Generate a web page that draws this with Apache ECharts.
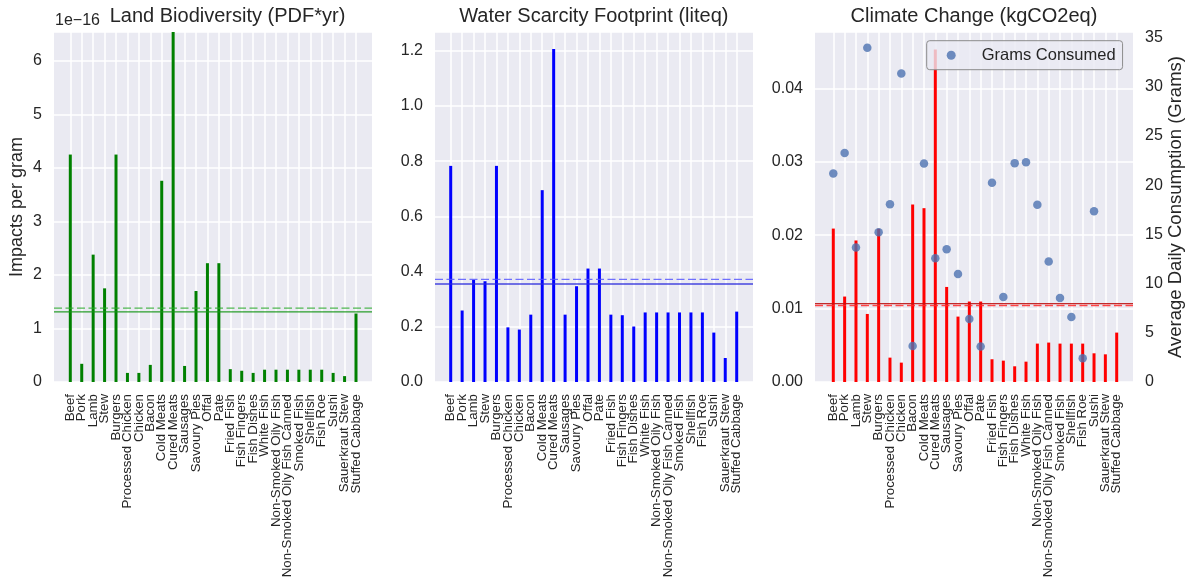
<!DOCTYPE html>
<html><head><meta charset="utf-8">
<script src="https://cdn.jsdelivr.net/npm/echarts@6/dist/echarts.min.js"></script>
<style>html,body{margin:0;padding:0;background:#fff}#c{width:1197px;height:585px}</style>
</head><body><div id="c"></div>
<script>
const categories = ['Beef','Pork','Lamb','Stew','Burgers','Processed Chicken','Chicken','Bacon','Cold Meats','Cured Meats','Sausages','Savoury Pies','Offal','Pate','Fried Fish','Fish Fingers','Fish Dishes','White Fish','Non-Smoked Oily Fish','Non-Smoked Oily Fish Canned','Smoked Fish','Shellfish','Fish Roe','Sushi','Sauerkraut Stew','Stuffed Cabbage'];
// Land biodiversity in units of 1e-16 PDF*yr per gram
const landBiodiversity = [4.25,0.34,2.38,1.75,4.25,0.17,0.17,0.32,3.76,6.54,0.30,1.70,2.22,2.22,0.24,0.21,0.17,0.23,0.23,0.23,0.23,0.23,0.23,0.17,0.11,1.28];
const waterScarcity = [0.783,0.259,0.370,0.365,0.783,0.198,0.190,0.244,0.695,1.206,0.244,0.347,0.411,0.411,0.244,0.242,0.201,0.252,0.252,0.252,0.252,0.252,0.252,0.179,0.087,0.255];
const climateChange = [0.0209,0.01164,0.01928,0.00927,0.02087,0.00332,0.00264,0.02418,0.02368,0.0453,0.01295,0.00891,0.01096,0.01096,0.0031,0.00291,0.00214,0.00277,0.00523,0.00537,0.00523,0.00523,0.00523,0.00391,0.00377,0.00673];
const gramsConsumed = [21.2,23.27,13.67,33.98,15.23,18.08,31.37,3.66,22.22,12.59,13.5,10.99,6.41,3.6,20.25,8.65,22.25,22.35,18.01,12.25,8.55,6.61,2.41,17.37,null,null];
// reference lines: [solid, dashed]
const landRefLines = [1.31, 1.38];
const waterRefLines = [0.355, 0.372];
const climateRefLines = [0.01069, 0.01042];
// axis ranges
const landAxis = {max: 6.54, interval: 1, decimals: 0};
const waterAxis = {max: 1.268, interval: 0.2, decimals: 1};
const climateAxis = {max: 0.04768, interval: 0.01, decimals: 2};
const gramsAxis = {max: 35.58, interval: 5, decimals: 0};
const landOffsetText = '1e\u221216';
const titles = ['Land Biodiversity (PDF*yr)', 'Water Scarcity Footprint (liteq)', 'Climate Change (kgCO2eq)'];

const FONT = "'Liberation Sans', Arial, sans-serif";
const TXT = '#262626';
const GRID_BG = '#EAEAF2';

const outerL = [54, 435, 815];
const innerL = [70.3, 450.7, 833.3];
const innerW = [285.7, 286, 283.4];
const TOP = 32, H = 350, W = 318;

const grids = [];
for (let i = 0; i < 3; i++) {
  grids.push({left: outerL[i], top: TOP, width: W, height: H, show: true, backgroundColor: GRID_BG, borderWidth: 0, outerBoundsMode: 'none'});
  grids.push({left: innerL[i], top: TOP, width: innerW[i], height: H, show: false, outerBoundsMode: 'none'});
}

const xAxes = [];
for (let i = 0; i < 3; i++) {
  xAxes.push({type: 'value', gridIndex: 2*i, min: 0, max: 1, show: false});
  xAxes.push({type: 'category', gridIndex: 2*i+1, data: categories, boundaryGap: false,
    axisLine: {show: false}, axisTick: {show: false},
    splitLine: {show: true, interval: 0, lineStyle: {color: '#ffffff', width: 1.5}},
    axisLabel: {rotate: 90, interval: 0, fontSize: 13.3, fontFamily: FONT, color: TXT, margin: 12}});
}

function visY(grid, ax, extra) {
  return Object.assign({type: 'value', gridIndex: grid, min: 0, max: ax.max, interval: ax.interval,
    axisLine: {show: false}, axisTick: {show: false},
    splitLine: {show: true, lineStyle: {color: '#ffffff', width: 1.5}},
    axisLabel: {fontSize: 16, fontFamily: FONT, color: TXT, margin: 12, showMaxLabel: false,
      formatter: v => (+v).toFixed(ax.decimals)}}, extra || {});
}
function hidY(grid, ax, extra) {
  return Object.assign({type: 'value', gridIndex: grid, min: 0, max: ax.max, show: false}, extra || {});
}

const yAxes = [
  visY(0, landAxis, {name: 'Impacts per gram', nameLocation: 'middle', nameGap: 28, nameRotate: 90,
    nameTextStyle: {fontSize: 18, fontFamily: FONT, color: TXT}}),
  hidY(1, landAxis),
  visY(2, waterAxis),
  hidY(3, waterAxis),
  visY(4, climateAxis),
  hidY(5, climateAxis),
  visY(4, gramsAxis, {position: 'right', splitLine: {show: false},
    name: 'Average Daily Consumption (Grams)', nameLocation: 'middle', nameGap: 33, nameRotate: 90,
    nameTextStyle: {fontSize: 18.5, fontFamily: FONT, color: TXT}}),
  hidY(5, gramsAxis, {position: 'right'})
];

const barColors = ['#008000', '#0000ff', '#ff0000'];
const barData = [landBiodiversity, waterScarcity, climateChange];
const refData = [landRefLines, waterRefLines, climateRefLines];
const refColors = [
  ['rgba(20,150,20,0.9)', 'rgba(40,170,40,0.8)'],
  ['rgba(40,40,220,0.85)', 'rgba(80,80,255,0.8)'],
  ['rgba(190,20,20,0.9)', 'rgba(255,40,40,0.85)']
];

const series = [];
for (let i = 0; i < 3; i++) {
  series.push({type: 'bar', xAxisIndex: 2*i+1, yAxisIndex: 2*i+1, data: barData[i], barWidth: 3,
    itemStyle: {color: barColors[i]}, silent: true, z: 2});
  refData[i].forEach((v, k) => {
    series.push({type: 'line', xAxisIndex: 2*i, yAxisIndex: 2*i, data: [[0, v], [1, v]], symbol: 'none',
      silent: true, z: 3,
      lineStyle: {color: refColors[i][k], width: 1.3, type: k === 0 ? 'solid' : [8, 3.5]}});
  });
}
series.push({type: 'scatter', name: 'Grams Consumed', xAxisIndex: 5, yAxisIndex: 7,
  data: gramsConsumed.map(v => v == null ? '-' : v), symbolSize: 8.5,
  itemStyle: {color: '#4C72B0'}, z: 4});

const titleX = [227.5, 593.8, 974];
const graphics = titles.map((t, i) => ({type: 'text', x: titleX[i], y: 16, silent: true,
  style: {text: t, font: `20px ${FONT}`, fill: TXT, align: 'center', verticalAlign: 'middle'}}));
graphics.push({type: 'text', x: 55, y: 21, silent: true,
  style: {text: landOffsetText, font: `16px ${FONT}`, fill: TXT, align: 'left', verticalAlign: 'middle'}});

const chart = echarts.init(document.getElementById('c'), null, {renderer: 'canvas'});
chart.setOption({
  animation: false,
  backgroundColor: '#ffffff',
  grid: grids, xAxis: xAxes, yAxis: yAxes, series: series,
  legend: {data: ['Grams Consumed'], left: 926.7, top: 40.7, icon: 'circle', itemWidth: 9, itemHeight: 9,
    padding: [6, 7, 6, 20], backgroundColor: 'rgba(234,234,242,0.8)', borderColor: '#8c8c8c', borderWidth: 1,
    borderRadius: 3, selectedMode: false,
    formatter: name => '{s|}' + name,
    textStyle: {fontSize: 16.5, fontFamily: FONT, color: TXT, rich: {s: {width: 21}}}},
  graphic: graphics
});
</script></body></html>
